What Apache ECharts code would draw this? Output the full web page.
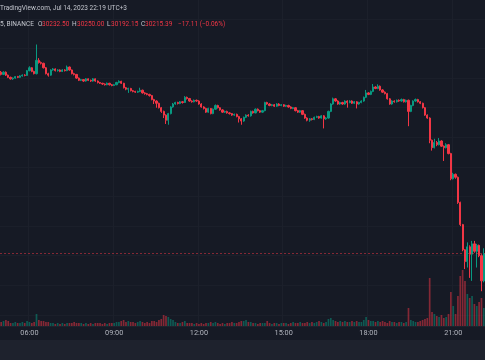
<!DOCTYPE html>
<html>
<head>
<meta charset="utf-8">
<script src="https://cdn.jsdelivr.net/npm/echarts@6/dist/echarts.min.js"></script>
<style>
html,body{margin:0;padding:0;background:#161a25;}
#c{width:485px;height:360px;}
</style>
</head>
<body>
<div id="c"></div>
<script>
// 5-minute categories, 05:00 ... 22:05
const times = [];
for (let i = 0; i < 206; i++) {
  const m = 300 + 5 * i;
  times.push(String(Math.floor(m / 60)).padStart(2, '0') + ':' + String(m % 60).padStart(2, '0'));
}
const tickLabels = ['06:00', '09:00', '12:00', '15:00', '18:00', '21:00'];

// [open, close, low, high]
const candles = [
[31440,31425,31418,31448],[31425,31440,31420,31446],[31440,31420,31414,31445],[31420,31405,31400,31424],
[31405,31395,31390,31410],[31395,31400,31388,31405],[31400,31410,31396,31414],[31410,31405,31400,31415],
[31405,31415,31402,31420],[31415,31420,31410,31425],[31420,31418,31412,31426],[31418,31450,31415,31455],
[31450,31470,31446,31480],[31470,31445,31440,31474],[31445,31430,31425,31450],[31430,31520,31425,31627],
[31520,31505,31498,31535],[31505,31500,31492,31512],[31500,31470,31465,31504],[31470,31430,31425,31475],
[31430,31420,31410,31436],[31420,31455,31416,31460],[31455,31462,31450,31468],[31462,31450,31445,31466],
[31450,31455,31444,31460],[31455,31445,31440,31459],[31445,31455,31441,31460],[31455,31450,31445,31460],
[31450,31475,31447,31485],[31475,31455,31450,31478],[31455,31430,31425,31458],[31430,31425,31418,31436],
[31425,31400,31395,31428],[31400,31385,31380,31404],[31385,31390,31380,31395],[31390,31380,31374,31394],
[31380,31395,31376,31400],[31395,31385,31380,31398],[31385,31380,31374,31390],[31380,31395,31376,31400],
[31395,31380,31375,31398],[31380,31370,31364,31384],[31370,31365,31360,31374],[31365,31360,31354,31368],
[31360,31355,31350,31364],[31355,31365,31352,31370],[31365,31355,31350,31368],[31355,31350,31345,31360],
[31350,31355,31346,31360],[31355,31370,31352,31375],[31370,31378,31365,31385],[31378,31365,31360,31382],
[31365,31335,31330,31368],[31335,31325,31318,31340],[31325,31330,31300,31335],[31330,31315,31310,31334],
[31315,31310,31304,31320],[31310,31305,31300,31314],[31305,31310,31300,31315],[31310,31318,31305,31335],
[31318,31300,31295,31322],[31300,31295,31288,31305],[31295,31290,31284,31300],[31290,31282,31275,31294],
[31282,31255,31250,31286],[31255,31245,31225,31260],[31245,31230,31200,31250],[31230,31200,31195,31234],
[31200,31175,31165,31205],[31175,31150,31130,31180],[31150,31115,31090,31155],[31115,31160,31085,31165],
[31160,31205,31155,31210],[31205,31225,31200,31232],[31225,31235,31220,31240],[31235,31228,31222,31240],
[31228,31240,31224,31245],[31240,31235,31228,31245],[31235,31270,31232,31278],[31270,31262,31255,31275],
[31262,31245,31240,31266],[31245,31240,31234,31250],[31240,31250,31236,31255],[31250,31245,31240,31255],
[31245,31225,31220,31250],[31225,31205,31200,31230],[31205,31195,31188,31210],[31195,31170,31165,31200],
[31170,31195,31166,31200],[31195,31160,31155,31198],[31160,31190,31156,31195],[31190,31215,31186,31222],
[31215,31200,31195,31220],[31200,31185,31180,31204],[31185,31170,31165,31190],[31170,31175,31165,31180],
[31175,31165,31160,31180],[31165,31160,31154,31170],[31160,31150,31145,31164],[31150,31155,31145,31160],
[31155,31140,31135,31160],[31140,31125,31100,31145],[31125,31110,31085,31130],[31110,31135,31105,31140],
[31135,31150,31130,31155],[31150,31145,31140,31156],[31145,31175,31140,31180],[31175,31165,31160,31180],
[31165,31190,31162,31195],[31190,31180,31175,31195],[31180,31170,31165,31185],[31170,31180,31166,31185],
[31180,31235,31176,31240],[31235,31225,31220,31240],[31225,31215,31210,31230],[31215,31220,31210,31225],
[31220,31210,31205,31225],[31210,31225,31206,31230],[31225,31215,31210,31230],[31215,31220,31210,31225],
[31220,31210,31205,31224],[31210,31215,31205,31220],[31215,31205,31200,31220],[31205,31195,31190,31210],
[31195,31200,31190,31205],[31200,31180,31175,31204],[31180,31170,31165,31185],[31170,31180,31165,31185],
[31180,31155,31150,31184],[31155,31130,31125,31160],[31130,31115,31108,31135],[31115,31125,31105,31130],
[31125,31120,31114,31130],[31120,31135,31116,31140],[31135,31140,31130,31146],[31140,31130,31125,31145],
[31130,31145,31126,31150],[31145,31125,31060,31150],[31125,31130,31118,31136],[31130,31175,31126,31180],
[31175,31225,31170,31230],[31225,31260,31220,31268],[31260,31245,31240,31265],[31245,31225,31220,31250],
[31225,31235,31220,31240],[31235,31225,31220,31240],[31225,31245,31220,31250],[31245,31235,31200,31250],
[31235,31245,31230,31250],[31245,31230,31225,31250],[31230,31240,31225,31245],[31240,31225,31195,31245],
[31225,31235,31220,31240],[31235,31245,31230,31250],[31245,31270,31240,31275],[31270,31300,31265,31320],
[31300,31290,31285,31305],[31290,31310,31285,31316],[31310,31340,31305,31360],[31340,31330,31325,31345],
[31330,31345,31325,31358],[31345,31320,31315,31350],[31320,31305,31300,31325],[31305,31295,31290,31310],
[31295,31260,31255,31300],[31260,31225,31220,31265],[31225,31245,31220,31250],[31245,31240,31234,31250],
[31240,31250,31235,31255],[31250,31245,31240,31256],[31245,31255,31240,31262],[31255,31240,31235,31260],
[31240,31250,31235,31255],[31250,31175,31075,31255],[31175,31215,31170,31220],[31215,31245,31210,31250],
[31245,31255,31240,31262],[31255,31240,31235,31260],[31240,31230,31224,31245],[31230,31200,31195,31234],
[31200,31150,31145,31205],[31150,31130,31125,31155],[31130,30980,30960,31135],[30980,30930,30910,30985],
[30930,30965,30925,30990],[30965,30950,30940,30975],[30950,30975,30945,30995],[30975,30940,30935,30980],
[30940,30930,30840,30945],[30930,30950,30925,30960],[30950,30890,30885,30955],[30890,30720,30710,30895],
[30720,30750,30715,30760],[30750,30730,30720,30755],[30730,30560,30550,30735],[30560,30410,30400,30565],
[30410,30240,30230,30415],[30240,30160,30110,30245],[30160,30260,30120,30290],[30260,30210,30050,30270],
[30210,30280,30030,30300],[30280,30230,30220,30300],[30230,30270,30120,30280],[30270,30200,30190,30275],
[30200,30030,29960,30210],[30030,30215,30020,30250]
];

const volumes = [
200,250,300,250,150,150,200,150,150,200,150,250,200,150,200,
600,
300,250,250,200,200,
150,150,100,150,100,150,100,150,150,150,200,150,150,150,100,150,100,150,100,150,
150,150,100,150,100,150,150,150,200,200,
250,300,200,250,200,
200,150,200,250,200,150,200,150,250,
250,200,300,350,
550,500,
450,350,300,
200,150,150,200,250,150,150,
150,100,150,100,150,100,150,150,200,150,200,150,100,150,100,150,150,200,150,150,200,250,250,300,200,
200,150,150,100,150,150,150,250,150,100,150,150,100,150,150,150,100,150,200,150,150,200,150,150,200,150,200,150,200,250,200,150,200,
350,400,300,
250,200,250,200,250,200,200,250,200,250,200,200,
300,450,300,250,
250,200,250,200,250,200,150,250,200,200,150,200,200,150,200,
900,
300,250,200,200,250,300,350,400,
2400,700,
600,500,450,550,400,450,
600,1700,1000,600,1500,2500,2800,2250,1600,1400,1500,1100,1000,1200,1400,900
];

const lastClose = 30215.39;
const headerTitle = 'TradingView.com, Jul 14, 2023 22:19 UTC+3';
const headerSymbol = '5, BINANCE';
const ohlcLabels = ['O', 'H', 'L', 'C'];
const ohlcValues = ['30232.50', '30250.00', '30192.15', '30215.39'];
const changeText = '\u221217.11 (\u22120.06%)';

const UP = '#089981', DOWN = '#f23645';
const chart = echarts.init(document.getElementById('c'), null, {renderer: 'canvas'});

const isTick = (idx, val) => tickLabels.indexOf(val) >= 0;
const labelX = [0, 38, 72, 107, 141];
const valueX = [42, 77, 111, 145];
const FONT = 'Roboto, "Liberation Sans", sans-serif';

const graphics = [
  {type: 'rect', left: 0, top: 340, shape: {width: 485, height: 20}, style: {fill: '#1e222d'}, z: 100},
  {type: 'text', left: 0, top: 5, style: {text: headerTitle, fill: '#c3c6ce', font: '6.5px ' + FONT}, z: 100},
  {type: 'text', left: 0, top: 21, style: {text: headerSymbol, fill: '#c3c6ce', font: '6.5px ' + FONT}, z: 100},
  {type: 'text', left: 178, top: 21, style: {text: changeText, fill: DOWN, font: '6.5px ' + FONT}, z: 100}
];
ohlcLabels.forEach((l, i) => {
  graphics.push({type: 'text', left: labelX[i + 1], top: 21, style: {text: l, fill: '#c3c6ce', font: '6.5px ' + FONT}, z: 100});
  graphics.push({type: 'text', left: valueX[i], top: 21, style: {text: ohlcValues[i], fill: DOWN, font: '6.5px ' + FONT}, z: 100});
});

chart.setOption({
  backgroundColor: '#161a25',
  animation: false,
  grid: [
    {left: 0, right: 0, top: 18.9, bottom: 15.5},
    {left: 0, right: 0, top: 0, bottom: 34}
  ],
  xAxis: [
    {type: 'category', gridIndex: 0, data: times, boundaryGap: true, show: false},
    {type: 'category', gridIndex: 1, data: times, boundaryGap: true,
     axisLine: {show: true, lineStyle: {color: '#1e222d'}},
     axisTick: {show: false},
     axisLabel: {interval: isTick, color: '#b2b5be', fontSize: 7.3, margin: 4, fontFamily: FONT},
     splitLine: {show: true, interval: isTick, lineStyle: {color: '#1c202b', width: 1}}}
  ],
  yAxis: [
    {type: 'value', gridIndex: 0, min: 29600, max: 31800, interval: 200,
     axisLabel: {show: false}, axisLine: {show: false}, axisTick: {show: false},
     splitLine: {show: true, lineStyle: {color: '#1b1f2a', width: 1}}},
    {type: 'value', gridIndex: 1, min: 0, max: 16300, show: false, splitLine: {show: false}}
  ],
  series: [
    {type: 'bar', xAxisIndex: 1, yAxisIndex: 1, data: volumes, barWidth: '72%', z: 1,
     itemStyle: {color: p => candles[p.dataIndex][1] >= candles[p.dataIndex][0] ? 'rgba(8,153,129,0.5)' : 'rgba(242,54,69,0.5)'}},
    {type: 'candlestick', xAxisIndex: 0, yAxisIndex: 0, data: candles, barWidth: '72%', z: 3,
     itemStyle: {color: UP, color0: DOWN, borderColor: UP, borderColor0: DOWN, borderWidth: 1},
     markLine: {silent: true, symbol: ['none', 'none'], label: {show: false},
       lineStyle: {color: DOWN, type: [2, 2], width: 1, opacity: 0.5},
       data: [{yAxis: lastClose}]}}
  ],
  graphic: graphics
});
</script>
</body>
</html>
